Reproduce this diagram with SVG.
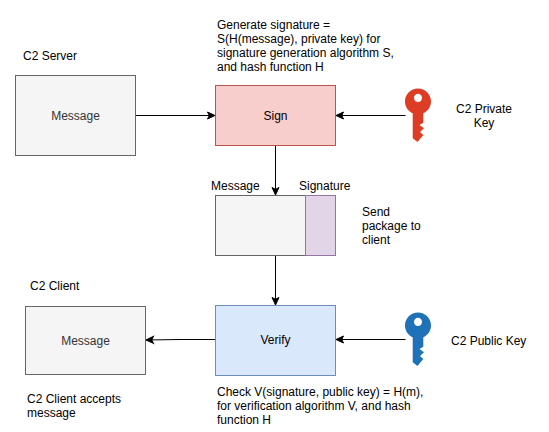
<svg xmlns="http://www.w3.org/2000/svg" width="549" height="432" viewBox="0 0 549 432">
<style>
text{font-family:"Liberation Sans",Arial,sans-serif;font-size:12px;fill:#000}
.c{text-anchor:middle}
.g{fill:#333}
.conn{fill:none;stroke:#000;stroke-width:1}
.grey{fill:#f5f5f5;stroke:#666}
</style>
<defs>
<marker id="arr" markerUnits="userSpaceOnUse" markerWidth="11" markerHeight="11" refX="9" refY="5.500" orient="auto"><path d="M1.500 2L9 5.500L1.500 9L3.300 5.500Z" fill="#000" stroke="#000"/></marker>
<path id="key" d="M0-13.500C-7.200-13.500-13-7.800-13-.5C-13 5-9.800 9.200-5.300 11.300V36.300L-.5 40L5.300 33L2 30L6 26.300L1.500 23L5.300 20.700V11.300C9.800 9.200 13 5 13-.5C13-7.800 7.200-13.500 0-13.500ZM0-8.200C2.300-8.200 4-6.400 4-4.100C4-1.900 2.300 0 0 0C-2.300 0-4-1.900-4-4.100C-4-6.400-2.300-8.200 0-8.200Z"/>
</defs>
<rect width="549" height="432" fill="#fff"/>
<g id="connectors">
<path class="conn" d="M135.500 115.500H215" marker-end="url(#arr)"/>
<path class="conn" d="M405.500 115.500H336" marker-end="url(#arr)"/>
<path class="conn" d="M275.500 145.500V195" marker-end="url(#arr)"/>
<path class="conn" d="M275.500 255.500V305" marker-end="url(#arr)"/>
<path class="conn" d="M405.500 339.500H336" marker-end="url(#arr)"/>
<path class="conn" d="M215 339.500H180L146 340" marker-end="url(#arr)"/>
</g>
<g id="server"><rect class="grey" x="15.500" y="75.500" width="120" height="80"/><text class="c g" x="75.500" y="120">Message</text></g>
<g id="sign"><rect x="215.500" y="85.500" width="120" height="60" fill="#f8cecc" stroke="#b85450"/><text class="c" x="275.500" y="120">Sign</text></g>
<g id="package"><rect class="grey" x="215.500" y="195.500" width="90" height="60"/><rect x="305.500" y="195.500" width="30" height="60" fill="#e1d5e7" stroke="#9673a6"/></g>
<g id="verify"><rect x="215.500" y="305.500" width="120" height="70" fill="#dae8fc" stroke="#6c8ebf"/><text class="c" x="275.500" y="344">Verify</text></g>
<g id="client"><rect class="grey" x="25.500" y="306.500" width="120" height="68"/><text class="c g" x="85.500" y="345">Message</text></g>
<g id="private-key"><use href="#key" x="418" y="102" fill="#dd3d25"/></g>
<g id="public-key"><use href="#key" x="418" y="326" fill="#1f72b8"/></g>
<g id="labels">
<text x="23" y="60">C2 Server</text>
<text x="217" y="29">Generate signature =</text>
<text x="217" y="43">S(H(message), private key) for</text>
<text x="217" y="57">signature generation algorithm S,</text>
<text x="217" y="71">and hash function H</text>
<text class="c" x="484" y="113">C2 Private</text>
<text class="c" x="484" y="127">Key</text>
<text x="211" y="190">Message</text>
<text x="299" y="190">Signature</text>
<text x="362" y="216">Send</text>
<text x="362" y="230">package to</text>
<text x="362" y="244">client</text>
<text x="30" y="290">C2 Client</text>
<text x="451" y="345">C2 Public Key</text>
<text x="27" y="403">C2 Client accepts</text>
<text x="27" y="417">message</text>
<text x="217" y="396">Check V(signature, public key) = H(m),</text>
<text x="217" y="410">for verification algorithm V, and hash</text>
<text x="217" y="424">function H</text>
</g>
</svg>
